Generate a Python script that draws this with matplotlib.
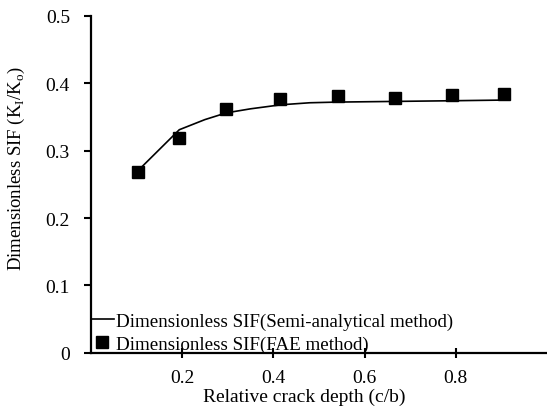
import matplotlib.pyplot as plt
from matplotlib.ticker import FuncFormatter

plt.rcParams['font.family'] = ['Liberation Serif', 'DejaVu Serif']
plt.rcParams['mathtext.fontset'] = 'custom'
plt.rcParams['mathtext.rm'] = 'Liberation Serif'

# semi-analytical curve
curve_x = [0.103, 0.194, 0.25, 0.297, 0.35, 0.417, 0.48, 0.54, 0.667, 0.792, 0.906]
curve_y = [0.270, 0.331, 0.346, 0.356, 0.362, 0.368, 0.371, 0.372, 0.373, 0.374, 0.375]

# FAE points
fae_x = [0.103, 0.193, 0.297, 0.415, 0.542, 0.667, 0.792, 0.906]
fae_y = [0.268, 0.319, 0.362, 0.376, 0.381, 0.378, 0.383, 0.384]

xticks = [0.2, 0.4, 0.6, 0.8]
yticks = [0, 0.1, 0.2, 0.3, 0.4, 0.5]

fig = plt.figure(figsize=(5.47, 4.10), dpi=100)
ax = fig.add_axes([0.166, 0.137, 0.834, 0.822])

ax.plot(curve_x, curve_y, color='black', lw=1.2,
        label='Dimensionless SIF(Semi-analytical method)')
ax.plot(fae_x, fae_y, ls='none', marker='s', ms=8, color='black',
        label='Dimensionless SIF(FAE method)')

ax.set_xlim(0, 1.0)
ax.set_ylim(0, 0.5)
ax.set_xticks(xticks)
ax.set_yticks(yticks)
ax.yaxis.set_major_formatter(FuncFormatter(lambda v, p: '0' if v == 0 else '%.1f' % v))

for s in ['top', 'right']:
    ax.spines[s].set_visible(False)
for s in ['left', 'bottom']:
    ax.spines[s].set_linewidth(1.6)
ax.tick_params(axis='both', labelsize=14, width=1.5, length=5)
ax.tick_params(axis='x', direction='inout', length=7, pad=8)
ax.tick_params(axis='y', pad=10)

ax.set_xlabel('Relative crack depth (c/b)', fontsize=14)
ax.set_ylabel('Dimensionless SIF (K$_\\mathregular{I}$/K$_\\mathregular{o}$)', fontsize=13.5)
ax.xaxis.set_label_coords(0.468, -0.103)
ax.yaxis.set_label_coords(-0.14, 0.549)

ax.legend(loc='lower left', frameon=False, fontsize=13.7, handlelength=1.2,
          handletextpad=0.15, borderaxespad=0.0, borderpad=0.0, labelspacing=0.3)

fig.savefig('out.png', dpi=100)
